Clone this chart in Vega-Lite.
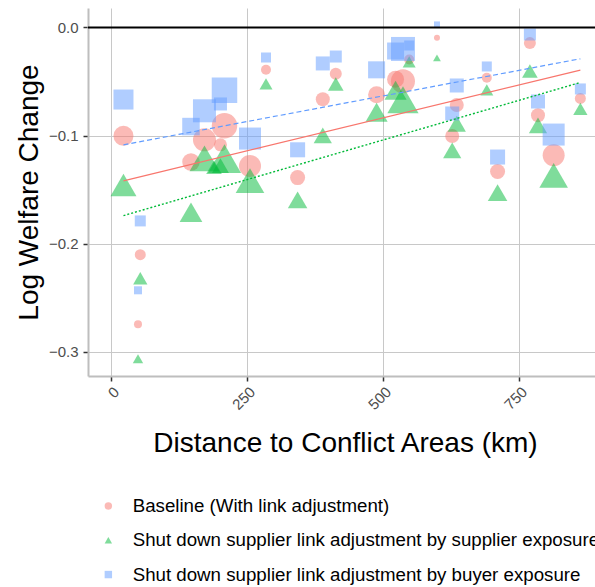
{
  "$schema": "https://vega.github.io/schema/vega-lite/v6.json",
  "width": 507,
  "height": 368,
  "autosize": {"type": "none"},
  "padding": {"left": 88, "top": 8, "right": 0, "bottom": 211},
  "background": "white",
  "datasets": {
    "pts": [
      {"series": "Baseline (With link adjustment)", "distance": 22.4, "welfare": -0.1003, "weight": 4.0},
      {"series": "Baseline (With link adjustment)", "distance": 53.3, "welfare": -0.2102, "weight": 1.21},
      {"series": "Baseline (With link adjustment)", "distance": 49.1, "welfare": -0.2747, "weight": 0.64},
      {"series": "Baseline (With link adjustment)", "distance": 146.5, "welfare": -0.1245, "weight": 3.06},
      {"series": "Baseline (With link adjustment)", "distance": 171.3, "welfare": -0.1040, "weight": 5.29},
      {"series": "Baseline (With link adjustment)", "distance": 208.1, "welfare": -0.0910, "weight": 6.5},
      {"series": "Baseline (With link adjustment)", "distance": 200.7, "welfare": -0.1086, "weight": 1.69},
      {"series": "Baseline (With link adjustment)", "distance": 255.0, "welfare": -0.1282, "weight": 4.84},
      {"series": "Baseline (With link adjustment)", "distance": 284.4, "welfare": -0.0392, "weight": 1.0},
      {"series": "Baseline (With link adjustment)", "distance": 342.5, "welfare": -0.1389, "weight": 2.25},
      {"series": "Baseline (With link adjustment)", "distance": 388.8, "welfare": -0.0664, "weight": 1.96},
      {"series": "Baseline (With link adjustment)", "distance": 412.7, "welfare": -0.0429, "weight": 1.44},
      {"series": "Baseline (With link adjustment)", "distance": 487.7, "welfare": -0.0622, "weight": 2.89},
      {"series": "Baseline (With link adjustment)", "distance": 522.6, "welfare": -0.0479, "weight": 2.89},
      {"series": "Baseline (With link adjustment)", "distance": 536.2, "welfare": -0.0497, "weight": 5.76},
      {"series": "Baseline (With link adjustment)", "distance": 547.6, "welfare": -0.0296, "weight": 1.0},
      {"series": "Baseline (With link adjustment)", "distance": 598.7, "welfare": -0.0095, "weight": 0.36},
      {"series": "Baseline (With link adjustment)", "distance": 626.7, "welfare": -0.1005, "weight": 1.96},
      {"series": "Baseline (With link adjustment)", "distance": 635.1, "welfare": -0.0718, "weight": 1.96},
      {"series": "Baseline (With link adjustment)", "distance": 690.3, "welfare": -0.0466, "weight": 1.0},
      {"series": "Baseline (With link adjustment)", "distance": 710.1, "welfare": -0.1333, "weight": 2.25},
      {"series": "Baseline (With link adjustment)", "distance": 769.5, "welfare": -0.0145, "weight": 1.44},
      {"series": "Baseline (With link adjustment)", "distance": 784.4, "welfare": -0.0813, "weight": 1.96},
      {"series": "Baseline (With link adjustment)", "distance": 813.2, "welfare": -0.1182, "weight": 4.84},
      {"series": "Baseline (With link adjustment)", "distance": 862.3, "welfare": -0.0657, "weight": 1.21},

      {"series": "Shut down supplier link adjustment by supplier exposure", "distance": 22.4, "welfare": -0.1458, "weight": 4.0},
      {"series": "Shut down supplier link adjustment by supplier exposure", "distance": 53.3, "welfare": -0.2321, "weight": 1.21},
      {"series": "Shut down supplier link adjustment by supplier exposure", "distance": 49.1, "welfare": -0.3065, "weight": 0.64},
      {"series": "Shut down supplier link adjustment by supplier exposure", "distance": 146.5, "welfare": -0.1710, "weight": 3.06},
      {"series": "Shut down supplier link adjustment by supplier exposure", "distance": 171.3, "welfare": -0.1211, "weight": 5.29},
      {"series": "Shut down supplier link adjustment by supplier exposure", "distance": 208.1, "welfare": -0.1213, "weight": 6.5},
      {"series": "Shut down supplier link adjustment by supplier exposure", "distance": 200.7, "welfare": -0.1278, "weight": 1.69},
      {"series": "Shut down supplier link adjustment by supplier exposure", "distance": 188.8, "welfare": -0.1294, "weight": 1.44},
      {"series": "Shut down supplier link adjustment by supplier exposure", "distance": 255.0, "welfare": -0.1417, "weight": 4.84},
      {"series": "Shut down supplier link adjustment by supplier exposure", "distance": 284.4, "welfare": -0.0521, "weight": 1.0},
      {"series": "Shut down supplier link adjustment by supplier exposure", "distance": 342.5, "welfare": -0.1595, "weight": 2.25},
      {"series": "Shut down supplier link adjustment by supplier exposure", "distance": 388.8, "welfare": -0.0998, "weight": 1.96},
      {"series": "Shut down supplier link adjustment by supplier exposure", "distance": 412.7, "welfare": -0.0523, "weight": 1.44},
      {"series": "Shut down supplier link adjustment by supplier exposure", "distance": 487.7, "welfare": -0.0785, "weight": 2.89},
      {"series": "Shut down supplier link adjustment by supplier exposure", "distance": 522.6, "welfare": -0.0581, "weight": 2.89},
      {"series": "Shut down supplier link adjustment by supplier exposure", "distance": 536.2, "welfare": -0.0669, "weight": 5.76},
      {"series": "Shut down supplier link adjustment by supplier exposure", "distance": 547.6, "welfare": -0.0318, "weight": 1.0},
      {"series": "Shut down supplier link adjustment by supplier exposure", "distance": 598.7, "welfare": -0.0282, "weight": 0.36},
      {"series": "Shut down supplier link adjustment by supplier exposure", "distance": 626.7, "welfare": -0.1137, "weight": 1.96},
      {"series": "Shut down supplier link adjustment by supplier exposure", "distance": 635.1, "welfare": -0.0891, "weight": 1.96},
      {"series": "Shut down supplier link adjustment by supplier exposure", "distance": 690.3, "welfare": -0.0577, "weight": 1.0},
      {"series": "Shut down supplier link adjustment by supplier exposure", "distance": 710.1, "welfare": -0.1528, "weight": 2.25},
      {"series": "Shut down supplier link adjustment by supplier exposure", "distance": 769.5, "welfare": -0.0402, "weight": 1.44},
      {"series": "Shut down supplier link adjustment by supplier exposure", "distance": 784.4, "welfare": -0.0906, "weight": 1.96},
      {"series": "Shut down supplier link adjustment by supplier exposure", "distance": 813.2, "welfare": -0.1368, "weight": 4.84},
      {"series": "Shut down supplier link adjustment by supplier exposure", "distance": 862.3, "welfare": -0.0753, "weight": 1.21},

      {"series": "Shut down supplier link adjustment by buyer exposure", "distance": 22.4, "welfare": -0.0667, "weight": 4.0},
      {"series": "Shut down supplier link adjustment by buyer exposure", "distance": 53.3, "welfare": -0.1790, "weight": 1.21},
      {"series": "Shut down supplier link adjustment by buyer exposure", "distance": 49.1, "welfare": -0.2432, "weight": 0.64},
      {"series": "Shut down supplier link adjustment by buyer exposure", "distance": 146.5, "welfare": -0.0917, "weight": 3.06},
      {"series": "Shut down supplier link adjustment by buyer exposure", "distance": 171.3, "welfare": -0.0771, "weight": 5.29},
      {"series": "Shut down supplier link adjustment by buyer exposure", "distance": 208.1, "welfare": -0.0581, "weight": 6.5},
      {"series": "Shut down supplier link adjustment by buyer exposure", "distance": 200.7, "welfare": -0.0708, "weight": 1.69},
      {"series": "Shut down supplier link adjustment by buyer exposure", "distance": 255.0, "welfare": -0.1028, "weight": 4.84},
      {"series": "Shut down supplier link adjustment by buyer exposure", "distance": 284.4, "welfare": -0.0278, "weight": 1.0},
      {"series": "Shut down supplier link adjustment by buyer exposure", "distance": 342.5, "welfare": -0.1132, "weight": 2.25},
      {"series": "Shut down supplier link adjustment by buyer exposure", "distance": 388.8, "welfare": -0.0333, "weight": 1.96},
      {"series": "Shut down supplier link adjustment by buyer exposure", "distance": 412.7, "welfare": -0.0269, "weight": 1.44},
      {"series": "Shut down supplier link adjustment by buyer exposure", "distance": 487.7, "welfare": -0.0392, "weight": 2.89},
      {"series": "Shut down supplier link adjustment by buyer exposure", "distance": 522.6, "welfare": -0.0218, "weight": 2.89},
      {"series": "Shut down supplier link adjustment by buyer exposure", "distance": 536.2, "welfare": -0.0199, "weight": 5.76},
      {"series": "Shut down supplier link adjustment by buyer exposure", "distance": 547.6, "welfare": -0.0167, "weight": 1.0},
      {"series": "Shut down supplier link adjustment by buyer exposure", "distance": 598.7, "welfare": 0.0028, "weight": 0.36},
      {"series": "Shut down supplier link adjustment by buyer exposure", "distance": 626.7, "welfare": -0.0796, "weight": 1.96},
      {"series": "Shut down supplier link adjustment by buyer exposure", "distance": 635.1, "welfare": -0.0537, "weight": 1.96},
      {"series": "Shut down supplier link adjustment by buyer exposure", "distance": 690.3, "welfare": -0.0361, "weight": 1.0},
      {"series": "Shut down supplier link adjustment by buyer exposure", "distance": 710.1, "welfare": -0.1199, "weight": 2.25},
      {"series": "Shut down supplier link adjustment by buyer exposure", "distance": 769.5, "welfare": -0.0065, "weight": 1.44},
      {"series": "Shut down supplier link adjustment by buyer exposure", "distance": 784.4, "welfare": -0.0685, "weight": 1.96},
      {"series": "Shut down supplier link adjustment by buyer exposure", "distance": 813.2, "welfare": -0.0991, "weight": 4.84},
      {"series": "Shut down supplier link adjustment by buyer exposure", "distance": 862.3, "welfare": -0.0569, "weight": 1.21}
    ],
    "fits": [
      {"series": "Baseline (With link adjustment)", "distance": 22.4, "welfare": -0.1419},
      {"series": "Baseline (With link adjustment)", "distance": 862.3, "welfare": -0.0395},
      {"series": "Shut down supplier link adjustment by supplier exposure", "distance": 22.4, "welfare": -0.1741},
      {"series": "Shut down supplier link adjustment by supplier exposure", "distance": 862.3, "welfare": -0.0509},
      {"series": "Shut down supplier link adjustment by buyer exposure", "distance": 22.4, "welfare": -0.1086},
      {"series": "Shut down supplier link adjustment by buyer exposure", "distance": 862.3, "welfare": -0.0290}
    ]
  },
  "config": {
    "font": "Liberation Sans",
    "view": {"stroke": null},
    "axis": {
      "labelFont": "Liberation Sans",
      "titleFont": "Liberation Sans",
      "labelColor": "#4d4d4d",
      "labelFontSize": 15,
      "titleColor": "black",
      "titleFontSize": 28,
      "titleFontWeight": "normal",
      "tickColor": "#333333",
      "tickSize": 5,
      "tickWidth": 1.5,
      "domainColor": "#bebebe",
      "domainWidth": 2,
      "grid": true,
      "gridColor": "#c8c8c8",
      "gridWidth": 1
    },
    "legend": {
      "orient": "none",
      "legendX": 11,
      "legendY": 488.6,
      "title": null,
      "labelFont": "Liberation Sans",
      "labelFontSize": 18.7,
      "labelColor": "black",
      "labelLimit": 2000,
      "symbolSize": 55,
      "rowPadding": 14.3,
      "labelOffset": 15,
      "padding": 0
    }
  },
  "layer": [
    {
      "data": {"name": "pts"},
      "transform": [{"filter": "datum.series === 'Baseline (With link adjustment)'"}],
      "mark": {"type": "point", "filled": true, "opacity": 0.5},
      "encoding": {
        "x": {
          "field": "distance", "type": "quantitative",
          "scale": {"domain": [-42.8, 889.2], "nice": false, "zero": false},
          "axis": {
            "title": "Distance to Conflict Areas (km)",
            "values": [0, 250, 500, 750],
            "labelAngle": -45, "labelAlign": "right", "labelBaseline": "top", "labelPadding": 3,
            "titleX": 257, "titleY": 75, "titleBaseline": "alphabetic", "titleAlign": "center", "titleAnchor": null
          }
        },
        "y": {
          "field": "welfare", "type": "quantitative",
          "scale": {"domain": [-0.3225, 0.018], "nice": false, "zero": false},
          "axis": {
            "title": "Log Welfare Change",
            "values": [-0.3, -0.2, -0.1, 0],
            "format": ".1f",
            "labelExpr": "replace(datum.label, '-', '\u2212')",
            "labelPadding": 5,
            "titleX": -51, "titleY": 184, "titleBaseline": "alphabetic", "titleAlign": "center", "titleAngle": 270
          }
        },
        "color": {
          "field": "series", "type": "nominal",
          "scale": {
            "domain": ["Baseline (With link adjustment)", "Shut down supplier link adjustment by supplier exposure", "Shut down supplier link adjustment by buyer exposure"],
            "range": ["#F8766D", "#00BA38", "#619CFF"]
          },
          "legend": {"symbolOpacity": 0.5}
        },
        "shape": {
          "field": "series", "type": "nominal",
          "scale": {
            "domain": ["Baseline (With link adjustment)", "Shut down supplier link adjustment by supplier exposure", "Shut down supplier link adjustment by buyer exposure"],
            "range": ["circle", "triangle-up", "square"]
          }
        },
        "size": {"field": "weight", "type": "quantitative", "scale": {"domain": [0, 10], "range": [0, 1000]}, "legend": null}
      }
    },
    {
      "data": {"name": "pts"},
      "transform": [{"filter": "datum.series === 'Shut down supplier link adjustment by supplier exposure'"}],
      "mark": {"type": "point", "filled": true, "opacity": 0.5},
      "encoding": {
        "x": {"field": "distance", "type": "quantitative"},
        "y": {"field": "welfare", "type": "quantitative"},
        "color": {"field": "series", "type": "nominal"},
        "shape": {"field": "series", "type": "nominal"},
        "size": {"field": "weight", "type": "quantitative", "scale": {"domain": [0, 10], "range": [0, 1690]}, "legend": null}
      }
    },
    {
      "data": {"name": "pts"},
      "transform": [{"filter": "datum.series === 'Shut down supplier link adjustment by buyer exposure'"}],
      "mark": {"type": "point", "filled": true, "opacity": 0.5},
      "encoding": {
        "x": {"field": "distance", "type": "quantitative"},
        "y": {"field": "welfare", "type": "quantitative"},
        "color": {"field": "series", "type": "nominal"},
        "shape": {"field": "series", "type": "nominal"},
        "size": {"field": "weight", "type": "quantitative", "scale": {"domain": [0, 10], "range": [0, 1000]}, "legend": null}
      }
    },
    {
      "data": {"name": "fits"},
      "transform": [{"filter": "datum.series === 'Baseline (With link adjustment)'"}],
      "mark": {"type": "line", "color": "#F8766D", "strokeWidth": 1.2},
      "encoding": {
        "x": {"field": "distance", "type": "quantitative"},
        "y": {"field": "welfare", "type": "quantitative"}
      }
    },
    {
      "data": {"name": "fits"},
      "transform": [{"filter": "datum.series === 'Shut down supplier link adjustment by supplier exposure'"}],
      "mark": {"type": "line", "color": "#00BA38", "strokeWidth": 1.4, "strokeDash": [2, 2]},
      "encoding": {
        "x": {"field": "distance", "type": "quantitative"},
        "y": {"field": "welfare", "type": "quantitative"}
      }
    },
    {
      "data": {"name": "fits"},
      "transform": [{"filter": "datum.series === 'Shut down supplier link adjustment by buyer exposure'"}],
      "mark": {"type": "line", "color": "#619CFF", "strokeWidth": 1.2, "strokeDash": [5, 3]},
      "encoding": {
        "x": {"field": "distance", "type": "quantitative"},
        "y": {"field": "welfare", "type": "quantitative"}
      }
    },
    {
      "data": {"values": [{}]},
      "mark": {"type": "rule", "color": "black", "strokeWidth": 2},
      "encoding": {"y": {"datum": 0}}
    }
  ],
  "resolve": {"scale": {"size": "independent"}}
}
